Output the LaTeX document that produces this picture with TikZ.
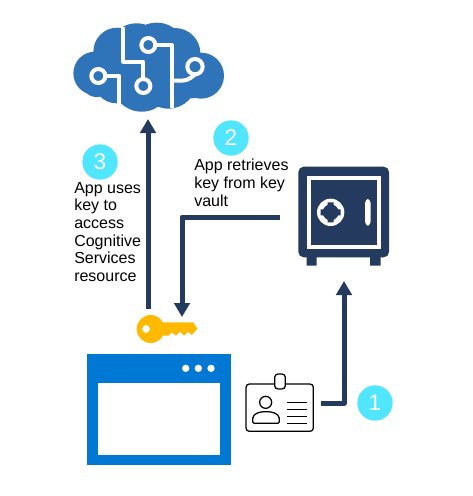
\documentclass[tikz,border=0pt]{standalone}
\usepackage{fontspec}
\setmainfont{Liberation Sans}
\definecolor{navy}{HTML}{243A5E}
\definecolor{cloudblue}{HTML}{2F74B9}
\definecolor{winblue}{HTML}{0078D4}
\definecolor{keygold}{HTML}{FFB900}
\definecolor{badgecyan}{HTML}{50E6FF}
\tikzset{
  flow/.style={draw=navy,line width=3.75pt,line join=round,
    -{Triangle[length=10.5pt,width=11.5pt]}},
  badge/.style={circle,fill=badgecyan,text=white,minimum size=26.5pt,inner sep=0pt,font=\fontsize{17}{17}\selectfont},
  caption/.style={anchor=north west,inner sep=0pt,align=left,font=\fontsize{12}{13.2}\selectfont},
  wire/.style={draw=white,line width=3pt,line join=round},
  ring/.style={draw=white,line width=3pt,fill=cloudblue},
  zoomed/.style={x=0.25pt,y=-0.25pt},
  idline/.style={draw=black,line width=0.85pt}
}
\usetikzlibrary{arrows.meta}
\begin{document}
\begin{tikzpicture}[x=0.75pt,y=-0.75pt]
\useasboundingbox (0,0) rectangle (472,496);
% cloud
\begin{scope}[shift={(60,10)},zoomed]
\fill[cloudblue] (105,190) circle[radius=65pt*0.25] (110,215) circle[radius=46pt*0.25]
 (172,125) circle[radius=72pt*0.25] (230,130) circle[radius=90pt*0.25] (290,128) circle[radius=90pt*0.25]
 (345,130) circle[radius=76pt*0.25] (423,197) circle[radius=69pt*0.25]
 (170,210) circle[radius=70pt*0.25] (245,215) circle[radius=90pt*0.25] (325,210) circle[radius=86pt*0.25]
 (395,200) circle[radius=65pt*0.25];
\draw[wire] (190,50) -- (190,155) -- (250,155) -- (250,210);
\draw[wire] (135,198) -- (178,198) -- (178,290);
\draw[wire] (285,105) -- (335,105) -- (335,295);
\draw[wire,rounded corners=8pt] (335,212) -- (398,212) -- (408,190);
\draw[ring] (250,228) circle (21);
\draw[ring] (115,198) circle (21);
\draw[ring] (265,105) circle (21);
\draw[ring] (405,170) circle (23);
\end{scope}
% safe
\begin{scope}[shift={(280,150)},zoomed]
\fill[navy,rounded corners=4pt] (55,50) rectangle (327,322);
\fill[navy] (80,320) rectangle (110,347) (270,320) rectangle (302,347);
\draw[white,line width=3pt] (86,83) rectangle (296,290);
\fill[white] (152,187) circle (41);
\fill[navy] (152,187) circle (24);
\fill[navy] (152,187) +(-9,-30) rectangle +(9,30) +(-30,-9) rectangle +(30,9);
\fill[white,rounded corners=3pt] (255,147) rectangle (272,227);
\end{scope}
% window, key, id card
\begin{scope}[shift={(80,300)},zoomed]
\fill[winblue] (22,162) rectangle (452,496);
\fill[white] (53,248) rectangle (420,465);
\fill[white] (317,205) circle (11) (355,205) circle (11) (393,205) circle (11);
\fill[keygold,even odd rule] (212,87) circle (42) (198,87) circle (12);
\fill[keygold] (235,67) -- (340,67) -- (352,87) -- (335,105) -- (325,95) -- (312,107) -- (300,95) -- (288,107) -- (275,97) -- (265,107) -- (235,107) -- cycle;
\draw[black,line width=0.95pt,rounded corners=2.5pt] (498,252) rectangle (700,394);
\draw[black,fill=white,line width=0.95pt,rounded corners=2.5pt] (584,222) rectangle (616,267);
\draw[black,line width=0.95pt] (557,307) circle (18);
\draw[black,line width=0.95pt,rounded corners=1pt] (518,370) -- (518,358) .. controls (520,340) and (540,335) .. (558,335) .. controls (576,335) and (596,340) .. (598,358) -- (598,370) -- cycle;
\draw[idline] (620,308) -- (681,308);
\draw[idline] (620,328) -- (681,328);
\draw[idline] (620,349) -- (681,349);
\draw[idline] (620,370) -- (681,370);
\end{scope}
% connector ends
\coordinate (appTop) at (148,309);
\coordinate (cloudBottom) at (148,119);
\coordinate (safeLeft) at (280,217);
\coordinate (elbow) at (182,217);
\coordinate (keyTop) at (182,317);
\coordinate (cardRight) at (321,403);
\coordinate (corner) at (344,403);
\coordinate (safeBottom) at (344,281);
\draw[flow] (appTop) -- (cloudBottom);
\draw[flow] (safeLeft) -- (elbow) -- (keyTop);
\draw[flow] (cardRight) -- (corner) -- (safeBottom);
% badges
\node[badge] (one) at (375,403) {1};
\node[badge] (two) at (231,138) {2};
\node[badge] (three) at (100,162) {3};
% captions
\node[caption] (capTwo) at (194,159) {App retrieves\\key from key\\vault};
\node[caption] (capThree) at (74,182) {App uses\\key to\\access\\Cognitive\\Services\\resource};
\end{tikzpicture}
\end{document}
